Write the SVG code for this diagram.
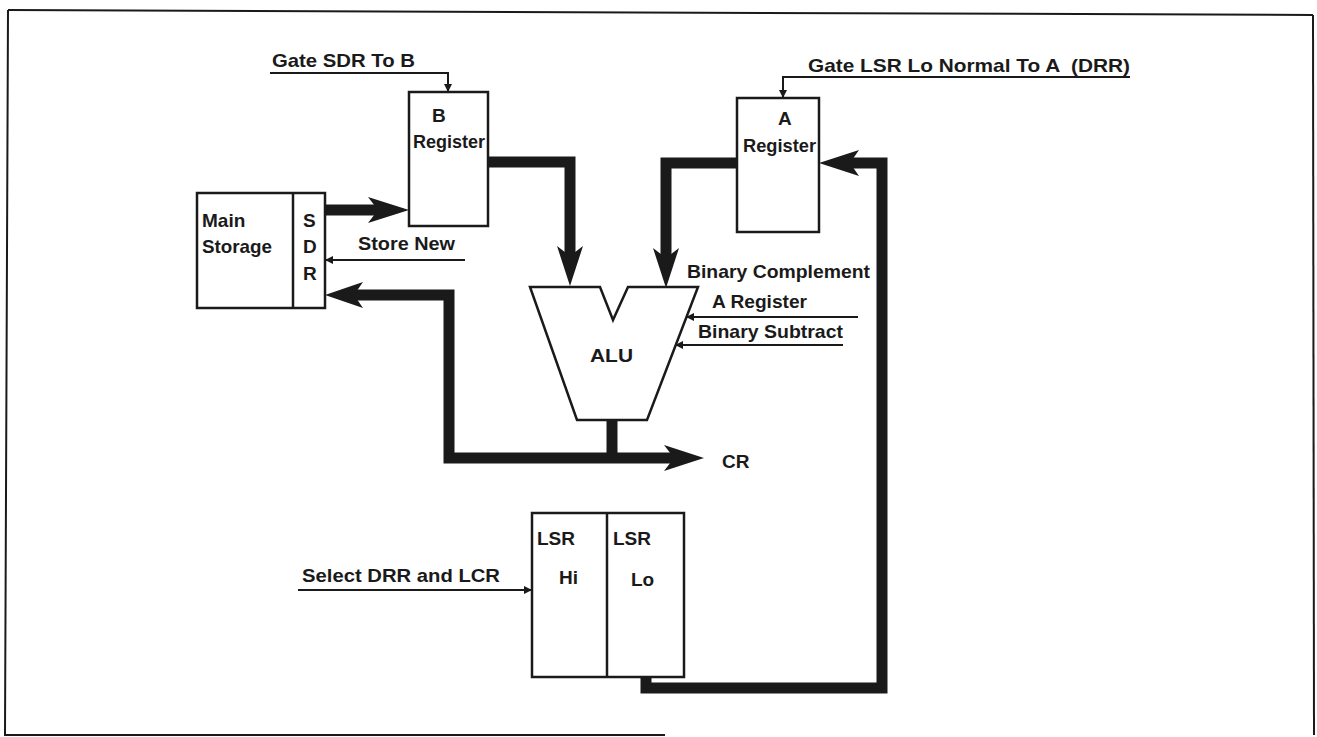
<svg xmlns="http://www.w3.org/2000/svg" width="1317" height="737" viewBox="0 0 1317 737">
<style>
text{font-family:"Liberation Sans",Arial,sans-serif;font-weight:bold;font-size:19px;fill:#1a1a1a}
.box{fill:#fff;stroke:#1a1a1a;stroke-width:2.5}
.thin{fill:none;stroke:#1a1a1a;stroke-width:2}
.thick{fill:none;stroke:#1a1a1a;stroke-width:11;stroke-linejoin:miter;stroke-linecap:butt}
.head{fill:#1a1a1a;stroke:none}
.frame{fill:none;stroke:#1a1a1a;stroke-width:2}
</style>
<defs>
<marker id="ah" viewBox="0 0 10 10" refX="10" refY="5" markerWidth="8" markerHeight="8" markerUnits="userSpaceOnUse" orient="auto">
<path d="M0,0 L10,5 L0,10 z" fill="#1a1a1a"/>
</marker>
</defs>
<rect width="1317" height="737" fill="#fff"/>
<g id="frame">
<path class="frame" d="M8,10 L1313,15"/>
<path class="frame" d="M8,10 L5,735 L665,735"/>
<path class="frame" d="M1313,15 L1314,735"/>
</g>
<g id="connectors">
<path class="thin" d="M270,73 L448,73 L448,92" marker-end="url(#ah)"/>
<path class="thin" d="M1130,77 L783,77 L783,98" marker-end="url(#ah)"/>
<path class="thin" d="M465,260 L325,260" marker-end="url(#ah)"/>
<path class="thin" d="M858,317 L686,317" marker-end="url(#ah)"/>
<path class="thin" d="M843,345 L675,345" marker-end="url(#ah)"/>
<path class="thin" d="M298,590 L532,590" marker-end="url(#ah)"/>
<path class="thick" d="M325,210 L385,210"/>
<path class="head" d="M409,210 L368,197 L378,210 L368,223 z"/>
<path class="thick" d="M488,162 L570,162 L570,262"/>
<path class="head" d="M570,286 L557,246 L570,256 L583,246 z"/>
<path class="thick" d="M737,163 L666,163 L666,264"/>
<path class="head" d="M666,288 L653,248 L666,258 L679,248 z"/>
<path class="thick" d="M612,420 L612,458"/>
<path class="thick" d="M680,458 L449,458 L449,295 L348,295"/>
<path class="head" d="M704,458 L664,445 L674,458 L664,471 z"/>
<path class="head" d="M325,295 L363,282 L354,295 L363,308 z"/>
<path class="thick" d="M646,677 L646,688 L882,688 L882,163 L842,163"/>
<path class="head" d="M819,163 L859,150 L850,163 L859,176 z"/>
</g>
<g id="main-storage">
<rect class="box" x="197" y="193" width="128" height="115"/>
<line class="box" x1="293" y1="193" x2="293" y2="308"/>
<text x="202" y="227">Main</text>
<text x="202" y="253" textLength="70" lengthAdjust="spacingAndGlyphs">Storage</text>
<text x="303" y="227">S</text>
<text x="303" y="253">D</text>
<text x="303" y="280">R</text>
</g>
<g id="b-register">
<rect class="box" x="409" y="92" width="79" height="134"/>
<text x="432" y="122">B</text>
<text x="413" y="148" textLength="72" lengthAdjust="spacingAndGlyphs">Register</text>
</g>
<g id="a-register">
<rect class="box" x="737" y="98" width="82" height="134"/>
<text x="778" y="125">A</text>
<text x="743" y="152" textLength="73" lengthAdjust="spacingAndGlyphs">Register</text>
</g>
<g id="alu">
<path class="box" d="M530,287 L600,287 L613,320 L628,287 L698,287 L647,420 L577,420 z"/>
<text x="590" y="362" textLength="43" lengthAdjust="spacingAndGlyphs">ALU</text>
</g>
<g id="lsr">
<rect class="box" x="532" y="513" width="152" height="164"/>
<line class="box" x1="607" y1="513" x2="607" y2="677"/>
<text x="537" y="545">LSR</text>
<text x="613" y="545">LSR</text>
<text x="559" y="584">Hi</text>
<text x="631" y="586">Lo</text>
</g>
<g id="labels">
<text x="272" y="67" textLength="143" lengthAdjust="spacingAndGlyphs">Gate SDR To B</text>
<text x="808" y="72" textLength="322" lengthAdjust="spacingAndGlyphs" xml:space="preserve">Gate LSR Lo Normal To A  (DRR)</text>
<text x="358" y="250" textLength="97" lengthAdjust="spacingAndGlyphs">Store New</text>
<text x="687" y="278" textLength="183" lengthAdjust="spacingAndGlyphs">Binary Complement</text>
<text x="712" y="308" textLength="95" lengthAdjust="spacingAndGlyphs">A Register</text>
<text x="698" y="338" textLength="145" lengthAdjust="spacingAndGlyphs">Binary Subtract</text>
<text x="722" y="468">CR</text>
<text x="302" y="582" textLength="198" lengthAdjust="spacingAndGlyphs">Select DRR and LCR</text>
</g>
</svg>
